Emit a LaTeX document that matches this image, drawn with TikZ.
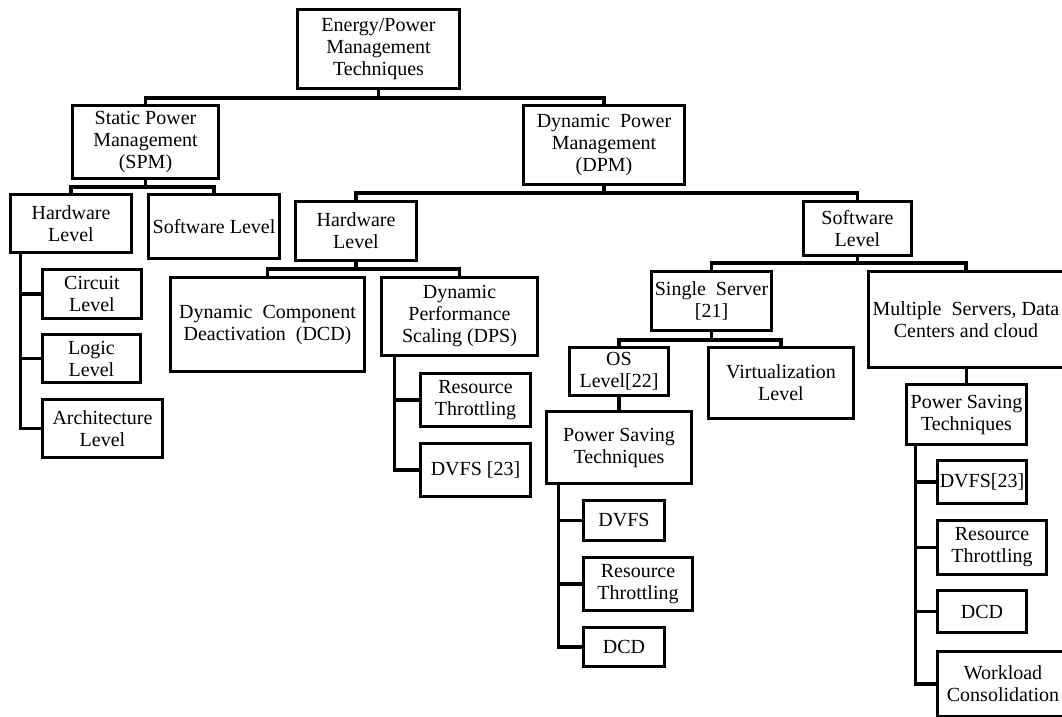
\documentclass[tikz,border=0pt]{standalone}
\usepackage{fontspec}
\setmainfont{Liberation Serif}
\usepackage{tikz}

\tikzset{
  box/.style={draw, line width=3.3pt, align=center, inner sep=1pt,
    font=\fontsize{20}{22}\selectfont},
  link/.style={line width=3.3pt}
}

\begin{document}
\begin{tikzpicture}[x=1pt,y=1pt]
        \useasboundingbox (0,0) rectangle (1062,-716);

        \node[box,minimum width=162pt,minimum height=79pt] (root) at (378.5,-49) {Energy/Power\\Management\\Techniques};
        \node[box,minimum width=146pt,minimum height=73pt] (spm) at (145.5,-142) {Static Power\\Management\\(SPM)};
        \node[box,minimum width=161pt,minimum height=79pt] (dpm) at (604,-145) {Dynamic\ \ Power\\Management\\(DPM)};

        \node[box,minimum width=121pt,minimum height=58pt] (hwspm) at (71,-223.5) {Hardware\\Level};
        \node[box,minimum width=131pt,minimum height=64pt] (swspm) at (214,-226.5) {Software Level};
        \node[box,minimum width=99pt,minimum height=49pt] (circuit) at (92,-294) {Circuit\\Level};
        \node[box,minimum width=98pt,minimum height=48pt] (logic) at (91.5,-358.5) {Logic\\Level};
        \node[box,minimum width=120pt,minimum height=58pt] (arch) at (102.5,-428.5) {Architecture\\Level};

        \node[box,minimum width=121pt,minimum height=59pt] (hwdpm) at (356,-231) {Hardware\\Level};
        \node[box,minimum width=108pt,minimum height=54pt] (swdpm) at (857.5,-228.5) {Software\\Level};
        \node[box,minimum width=194pt,minimum height=94pt] (dcd) at (267.5,-324.5) {Dynamic\ \ Component\\Deactivation\ \ (DCD)};
        \node[box,minimum width=156pt,minimum height=78pt] (dps) at (459.5,-316.5) {Dynamic\\Performance\\Scaling (DPS)};
        \node[box,minimum width=110pt,minimum height=53pt] (thra) at (475.5,-400) {Resource\\Throttling};
        \node[box,minimum width=110pt,minimum height=53pt] (dvfsa) at (475.5,-470) {DVFS [23]};

        \node[box,minimum width=120pt,minimum height=59pt] (single) at (711.5,-301) {Single\ \ Server\\{}[21]};
        \node[box,minimum width=195pt,minimum height=96pt] (multi) at (966,-319.5) {Multiple\ \ Servers, Data\\Centers and cloud};
        \node[box,minimum width=99pt,minimum height=48pt] (os) at (619,-371.5) {OS\\Level[22]};
        \node[box,minimum width=145pt,minimum height=71pt] (virt) at (781,-383) {Virtualization\\Level};
        \node[box,minimum width=145pt,minimum height=72pt] (psta) at (619,-447.5) {Power Saving\\Techniques};
        \node[box,minimum width=81pt,minimum height=40pt] (dvfsb) at (624,-520.5) {DVFS};
        \node[box,minimum width=109pt,minimum height=53pt] (thrb) at (638,-584) {Resource\\Throttling};
        \node[box,minimum width=81pt,minimum height=39pt] (dcdb) at (624,-647) {DCD};

        \node[box,minimum width=120pt,minimum height=60pt] (pstb) at (966.5,-414.5) {Power Saving\\Techniques};
        \node[box,minimum width=89pt,minimum height=43pt] (dvfsc) at (982,-482) {DVFS[23]};
        \node[box,minimum width=109pt,minimum height=54pt] (thrc) at (992,-547.5) {Resource\\Throttling};
        \node[box,minimum width=89pt,minimum height=42pt] (dcdc) at (982,-611.5) {DCD};
        \node[box,minimum width=131pt,minimum height=65pt] (wc) at (1003,-684) {Workload\\Consolidation};

        % buses
        \draw[link] (spm.north) -- ++(0,6) coordinate (b0) -| (dpm.north);
        \draw[link] (root.south) -- (root.south |- b0);
        \draw[link] (hwspm.north) -- ++(0,6) coordinate (b1) -| (swspm.north);
        \draw[link] (spm.south) -- (spm.south |- b1);
        \draw[link] (hwdpm.north) -- ++(0,7) coordinate (b2) -| (swdpm.north);
        \draw[link] (dpm.south) -- (dpm.south |- b2);
        \draw[link] (dcd.north) -- ++(0,7) coordinate (b3) -| (dps.north);
        \draw[link] (hwdpm.south) -- (hwdpm.south |- b3);
        \draw[link] (single.north) -- ++(0,7) coordinate (b4) -| (multi.north);
        \draw[link] (swdpm.south) -- (swdpm.south |- b4);
        \draw[link] (os.north) -- ++(0,6) coordinate (b5) -| (virt.north);
        \draw[link] (single.south) -- (single.south |- b5);
        \draw[link] (os.south) -- (psta.north);
        \draw[link] (pstb.north) -- (pstb.north |- multi.south);

        % side trees
        \coordinate (t1) at ([xshift=11.5pt]hwspm.south west);
        \draw[link] (t1) |- (circuit.west) (t1) |- (logic.west) (t1) |- (arch.west);
        \coordinate (t2) at ([xshift=14.5pt]dps.south west);
        \draw[link] (t2) |- (thra.west) (t2) |- (dvfsa.west);
        \coordinate (t3) at ([xshift=13.5pt]psta.south west);
        \draw[link] (t3) |- (dvfsb.west) (t3) |- (thrb.west) (t3) |- (dcdb.west);
        \coordinate (t4) at ([xshift=10.5pt]pstb.south west);
        \draw[link] (t4) |- (dvfsc.west) (t4) |- (thrc.west) (t4) |- (dcdc.west) (t4) |- (wc.west);
      \end{tikzpicture}
\end{document}
